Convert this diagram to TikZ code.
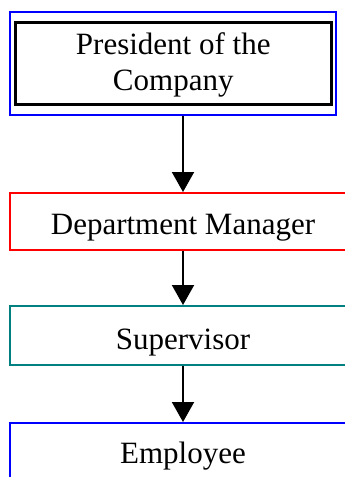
\documentclass[tikz,border=0pt]{standalone}
\usepackage{fontspec}
\setmainfont{Liberation Serif}
\usetikzlibrary{arrows.meta}
\definecolor{tealc}{RGB}{0,128,128}
\tikzset{
  boxtext/.style={font=\fontsize{31}{36}\selectfont, inner sep=0pt, align=center},
  levelbox/.style={draw, line width=2pt, boxtext, minimum width=346pt},
  flow/.style={line width=2pt, -{Triangle[length=20pt,width=22pt]}}
}
\begin{document}
\begin{tikzpicture}[x=1pt,y=-1pt]
\useasboundingbox (0,0) rectangle (345,477);
\clip (0,0) rectangle (345,477);
\node[draw=blue, line width=2pt, minimum width=326.5pt, minimum height=103.5pt, inner sep=0pt] (topouter) at (172.75,63.25) {};
\node[draw=black, line width=3pt, minimum width=316.5pt, minimum height=82pt, boxtext, text height=68.7pt, text depth=13.3pt] (president) at (173.25,63) {President of the\\Company};
\node[levelbox, draw=red, minimum height=57pt, text height=41pt, text depth=16pt] (dm) at (183,221.5) {Department Manager};
\node[levelbox, draw=tealc, minimum height=59pt, text height=43pt, text depth=16pt] (sup) at (183,335.5) {Supervisor};
\node[levelbox, draw=blue, minimum height=57pt, text height=40pt, text depth=17pt] (emp) at (183,451.5) {Employee};
\draw[flow] (dm.north |- topouter.south) -- (dm.north);
\draw[flow] (dm.south) -- (sup.north);
\draw[flow] (sup.south) -- (emp.north);
\end{tikzpicture}
\end{document}
